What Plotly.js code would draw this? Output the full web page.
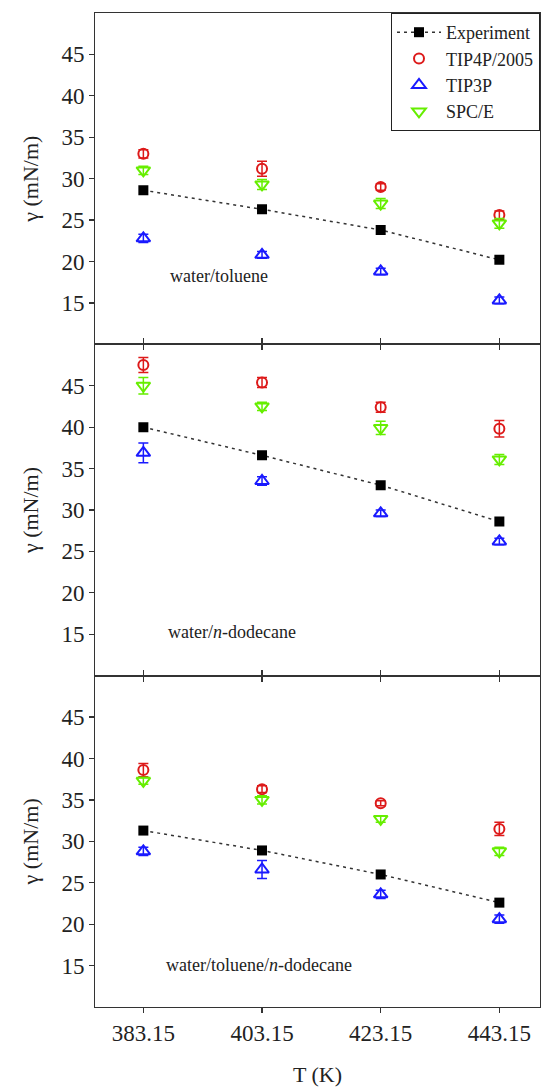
<!DOCTYPE html>
<html>
<head>
<meta charset="utf-8">
<script src="https://cdn.plot.ly/plotly-3.0.1.min.js"></script>
<style>html,body{margin:0;padding:0;background:#fff;}#chart{width:541px;height:1092px;}</style>
</head>
<body>
<div id="chart"></div>
<script>
// Temperatures (K)
const temps = [383.15, 403.15, 423.15, 443.15];
const tickLabels = ["383.15", "403.15", "423.15", "443.15"];
const seriesNames = ["Experiment", "TIP4P/2005", "TIP3P", "SPC/E"];
const panelLabels = ["water/toluene", "water/<i>n</i>-dodecane", "water/toluene/<i>n</i>-dodecane"];

// Panel 1: water/toluene
const tol_exp = [28.6, 26.3, 23.8, 20.2];
const tol_tip4p = [33.0, 31.2, 29.0, 25.6];
const tol_tip4p_err = [0.5, 0.9, 0.4, 0.5];
const tol_tip3p = [22.8, 20.8, 18.8, 15.3];
const tol_tip3p_err = [0.5, 0.4, 0.4, 0.4];
const tol_spce = [31.0, 29.3, 27.0, 24.6];
const tol_spce_err = [0.5, 0.6, 0.6, 0.6];

// Panel 2: water/n-dodecane
const dod_exp = [40.0, 36.6, 33.0, 28.6];
const dod_tip4p = [47.5, 45.4, 42.4, 39.8];
const dod_tip4p_err = [0.9, 0.6, 0.6, 1.0];
const dod_tip3p = [36.9, 33.5, 29.6, 26.2];
const dod_tip3p_err = [1.2, 0.5, 0.4, 0.4];
const dod_spce = [45.0, 42.5, 39.9, 36.1];
const dod_spce_err = [1.0, 0.5, 0.8, 0.6];

// Panel 3: water/toluene/n-dodecane
const mix_exp = [31.3, 28.9, 26.0, 22.6];
const mix_tip4p = [38.6, 36.3, 34.6, 31.5];
const mix_tip4p_err = [0.8, 0.4, 0.3, 0.8];
const mix_tip3p = [28.8, 26.6, 23.6, 20.6];
const mix_tip3p_err = [0.5, 1.1, 0.5, 0.5];
const mix_spce = [37.3, 35.0, 32.7, 28.8];
const mix_spce_err = [0.4, 0.5, 0.4, 0.5];

const RED = "#dd1a1a", BLUE = "#1a1aff", GREEN = "#66ee00", BLACK = "#000000";
const FONT = "Liberation Serif, Times New Roman, serif";

const panels = [
  {xa: "x3", ya: "y3", exp: tol_exp, t4: tol_tip4p, t4e: tol_tip4p_err, t3: tol_tip3p, t3e: tol_tip3p_err, sp: tol_spce, spe: tol_spce_err, legend: true},
  {xa: "x2", ya: "y2", exp: dod_exp, t4: dod_tip4p, t4e: dod_tip4p_err, t3: dod_tip3p, t3e: dod_tip3p_err, sp: dod_spce, spe: dod_spce_err, legend: false},
  {xa: "x", ya: "y", exp: mix_exp, t4: mix_tip4p, t4e: mix_tip4p_err, t3: mix_tip3p, t3e: mix_tip3p_err, sp: mix_spce, spe: mix_spce_err, legend: false}
];

function errObj(arr, color) {
  return {type: "data", array: arr, visible: true, color: color, thickness: 1.5, width: 5};
}

const traces = [];
panels.forEach(p => {
  traces.push({x: temps, y: p.exp, xaxis: p.xa, yaxis: p.ya, name: seriesNames[0], legendgroup: "e", showlegend: p.legend,
    mode: "lines+markers", line: {color: "#333", width: 1.5, dash: "3px,4px"},
    marker: {symbol: "square", size: 10, color: BLACK}});
  traces.push({x: temps, y: p.t4, xaxis: p.xa, yaxis: p.ya, name: seriesNames[1], legendgroup: "a", showlegend: p.legend,
    mode: "markers", error_y: errObj(p.t4e, RED),
    marker: {symbol: "circle-open", size: 10, color: RED, line: {width: 2, color: RED}}});
  traces.push({x: temps, y: p.t3, xaxis: p.xa, yaxis: p.ya, name: seriesNames[2], legendgroup: "b", showlegend: p.legend,
    mode: "markers", error_y: errObj(p.t3e, BLUE),
    marker: {symbol: "triangle-up-open", size: 12, color: BLUE, line: {width: 2, color: BLUE}}});
  traces.push({x: temps, y: p.sp, xaxis: p.xa, yaxis: p.ya, name: seriesNames[3], legendgroup: "c", showlegend: p.legend,
    mode: "markers", error_y: errObj(p.spe, GREEN),
    marker: {symbol: "triangle-down-open", size: 12, color: GREEN, line: {width: 2, color: GREEN}}});
});

function xAxis(anchor, showLabels, mirror) {
  return {anchor: anchor, range: [375, 450], tickmode: "array", tickvals: temps, ticktext: tickLabels,
    showticklabels: showLabels, ticks: "outside", ticklen: 5, tickwidth: 1.2, tickcolor: "#333",
    showline: true, linecolor: "#333", linewidth: 1, mirror: mirror, showgrid: false, zeroline: false,
    tickfont: {family: FONT, size: 23, color: "#222"}};
}
function yAxis(anchor, domain) {
  return {anchor: anchor, domain: domain, range: [10, 50], tickmode: "array", tickvals: [15, 20, 25, 30, 35, 40, 45],
    ticks: "outside", ticklen: 5, tickwidth: 1.2, tickcolor: "#333",
    showline: true, linecolor: "#333", linewidth: 1, mirror: true, showgrid: false, zeroline: false,
    tickfont: {family: FONT, size: 23, color: "#222"},
    title: {text: "γ (mN/m)", font: {family: FONT, size: 22, color: "#222"}, standoff: 16}};
}

const annFont = {family: FONT, size: 18, color: "#222"};
const layout = {
  width: 541, height: 1092,
  margin: {l: 95, r: 1, t: 13, b: 85},
  paper_bgcolor: "#fff", plot_bgcolor: "#fff",
  showlegend: true,
  legend: {x: 1, y: 1, xanchor: "right", yanchor: "top", bgcolor: "#fff", bordercolor: "#222", borderwidth: 1,
    font: {family: FONT, size: 18, color: "#222"}, tracegroupgap: 0, itemwidth: 44},
  xaxis: Object.assign(xAxis("y", true, "ticks"), {title: {text: "T (K)", font: {family: FONT, size: 22, color: "#222"}, standoff: 22}}),
  xaxis2: xAxis("y2", false, "ticks"),
  xaxis3: xAxis("y3", false, true),
  yaxis: yAxis("x", [0, 1/3]),
  yaxis2: yAxis("x2", [1/3, 2/3]),
  yaxis3: yAxis("x3", [2/3, 1]),
  annotations: [
    {xref: "x3", yref: "y3", x: 387.3, y: 18.2, xanchor: "left", yanchor: "middle", text: panelLabels[0], showarrow: false, font: annFont},
    {xref: "x2", yref: "y2", x: 387.0, y: 15.3, xanchor: "left", yanchor: "middle", text: panelLabels[1], showarrow: false, font: annFont},
    {xref: "x", yref: "y", x: 386.7, y: 15.1, xanchor: "left", yanchor: "middle", text: panelLabels[2], showarrow: false, font: annFont}
  ]
};

Plotly.newPlot("chart", traces, layout, {displayModeBar: false, staticPlot: true});
</script>
</body>
</html>
